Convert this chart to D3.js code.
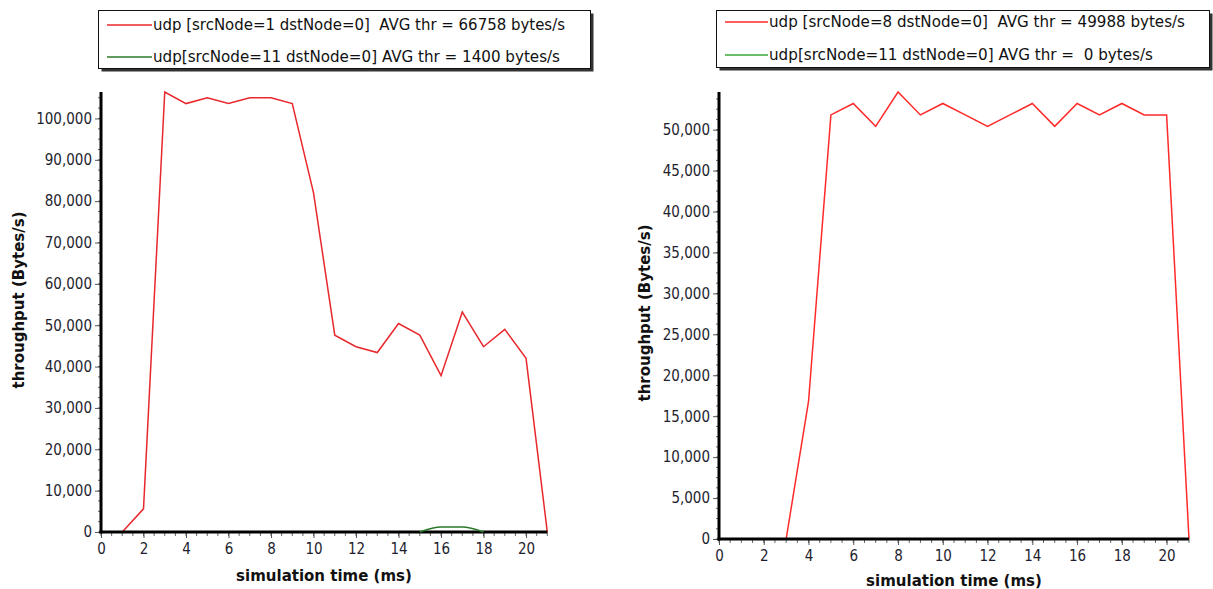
<!DOCTYPE html>
<html>
<head>
<meta charset="utf-8">
<script src="https://cdn.jsdelivr.net/npm/d3@7"></script>
<style>
  html, body { margin: 0; padding: 0; background: #fff; }
  svg { display: block; }
  text { font-family: "DejaVu Sans Condensed", "DejaVu Sans", sans-serif; white-space: pre; }
</style>
</head>
<body>
<svg id="chart" width="1213" height="589"></svg>
<script>
// ---------- data ----------
const timeSteps = [0,1,2,3,4,5,6,7,8,9,10,11,12,13,14,15,16,17,18,19,20,21];

// left chart
const leftRed   = [0,0,5600,106400,103600,105000,103600,105000,105000,103600,82000,47600,44800,43400,50400,47600,37800,53200,44800,49000,42000,0];
const leftGreenTime = [15,16,17,18];
const leftGreen = [0,1200,1200,0];
const leftLegend = [
  "udp [srcNode=1 dstNode=0]  AVG thr = 66758 bytes/s",
  "udp[srcNode=11 dstNode=0] AVG thr = 1400 bytes/s"
];
const leftYTicks = [0,10000,20000,30000,40000,50000,60000,70000,80000,90000,100000];

// right chart
const rightRed   = [0,0,0,0,16800,51800,53200,50400,54600,51800,53200,51800,50400,51800,53200,50400,53200,51800,53200,51800,51800,0];
const rightGreen = [0,0,0,0,0,0,0,0,0,0,0,0,0,0,0,0,0,0,0,0,0,0];
const rightLegend = [
  "udp [srcNode=8 dstNode=0]  AVG thr = 49988 bytes/s",
  "udp[srcNode=11 dstNode=0] AVG thr =  0 bytes/s"
];
const rightYTicks = [0,5000,10000,15000,20000,25000,30000,35000,40000,45000,50000];

const xTicks = [0,2,4,6,8,10,12,14,16,18,20];
const xTitle = "simulation time (ms)";
const yTitle = "throughput (Bytes/s)";

// ---------- drawing ----------
const svg = d3.select("#chart");
const fmt = d3.format(",");

function drawChart(cfg) {
  const g = svg.append("g");
  const x = d3.scaleLinear().domain([0, 21]).range([cfg.x0, cfg.x1]);
  const y = d3.scaleLinear().domain([0, cfg.ymax]).range([cfg.y0, cfg.y1]);

  // minor ticks y
  const yMinor = d3.range(0, cfg.ymax + 1, cfg.yMinorStep);
  g.append("g").selectAll("line").data(yMinor).join("line")
    .attr("x1", cfg.x0 - 3).attr("x2", cfg.x0 + 1)
    .attr("y1", d => y(d)).attr("y2", d => y(d))
    .attr("stroke", "#666").attr("stroke-width", 1);
  // minor ticks x
  const xMinor = d3.range(0, 21.01, 0.5);
  g.append("g").selectAll("line").data(xMinor).join("line")
    .attr("x1", d => x(d)).attr("x2", d => x(d))
    .attr("y1", cfg.y0).attr("y2", cfg.y0 + 4)
    .attr("stroke", "#666").attr("stroke-width", 1);

  // y axis
  const yAxis = d3.axisLeft(y).tickValues(cfg.yTicks).tickFormat(fmt).tickSize(6).tickPadding(3);
  const ya = g.append("g").attr("transform", `translate(${cfg.x0},0)`).call(yAxis);
  ya.select(".domain").remove();
  ya.selectAll(".tick line").attr("stroke", "#555").attr("stroke-width", 1);
  ya.selectAll(".tick text").attr("font-size", 15).attr("fill", "#1e1e2e")
    .style("font-family", '"DejaVu Sans Condensed", "DejaVu Sans", sans-serif');

  // x axis
  const xAxis = d3.axisBottom(x).tickValues(xTicks).tickSize(6).tickPadding(5);
  const xa = g.append("g").attr("transform", `translate(0,${cfg.y0})`).call(xAxis);
  xa.select(".domain").remove();
  xa.selectAll(".tick line").attr("stroke", "#555").attr("stroke-width", 1);
  xa.selectAll(".tick text").attr("font-size", 15).attr("fill", "#1e1e2e")
    .style("font-family", '"DejaVu Sans Condensed", "DejaVu Sans", sans-serif');

  // data lines
  const line = d3.line().x(d => x(d[0])).y(d => y(d[1]));
  const gLine = d3.line().x(d => x(d[0])).y(d => y(d[1])).curve(d3.curveMonotoneX);
  const drawGreen = () => g.append("path")
    .datum(cfg.greenTime.map((t, i) => [t, cfg.green[i]]))
    .attr("fill", "none").attr("stroke", cfg.greenColor).attr("stroke-width", 1.5)
    .attr("d", gLine);

  if (!cfg.greenOnTop) drawGreen();

  g.append("path")
    .datum(cfg.redTime.map((t, i) => [t, cfg.red[i]]))
    .attr("fill", "none").attr("stroke", cfg.redColor).attr("stroke-width", 1.5)
    .attr("d", line);

  // axis lines (thick)
  g.append("line").attr("x1", cfg.x0).attr("x2", cfg.x0)
    .attr("y1", cfg.y1).attr("y2", cfg.y0 + 1.5)
    .attr("stroke", "#000").attr("stroke-width", 3);
  g.append("line").attr("x1", cfg.x0 - 1.5).attr("x2", x(21))
    .attr("y1", cfg.y0).attr("y2", cfg.y0)
    .attr("stroke", "#000").attr("stroke-width", 3);

  if (cfg.greenOnTop) drawGreen();

  // axis titles
  g.append("text")
    .attr("transform", `translate(${cfg.yTitleX},${cfg.yTitleY}) rotate(-90)`)
    .attr("text-anchor", "middle").attr("font-size", 15).attr("font-weight", "bold")
    .attr("fill", "#111")
    .style("font-family", '"DejaVu Sans", sans-serif')
    .text(yTitle);
  g.append("text")
    .attr("x", cfg.xTitleX).attr("y", cfg.xTitleY)
    .attr("text-anchor", "middle").attr("font-size", 15).attr("font-weight", "bold")
    .attr("fill", "#111")
    .style("font-family", '"DejaVu Sans", sans-serif')
    .text(xTitle);

  // legend
  const L = cfg.legend;
  g.append("rect").attr("x", L.x + 3).attr("y", L.y + 3).attr("width", L.w).attr("height", L.h)
    .attr("fill", "#333");
  g.append("rect").attr("x", L.x).attr("y", L.y).attr("width", L.w).attr("height", L.h)
    .attr("fill", "#fff").attr("stroke", "#111").attr("stroke-width", 1);
  const items = [
    { label: cfg.legendText[0], color: cfg.redColor, cy: L.row1 },
    { label: cfg.legendText[1], color: cfg.greenColor, cy: L.row2 }
  ];
  items.forEach((it, i) => {
    g.append("line").attr("x1", L.lx0).attr("x2", L.lx1)
      .attr("y1", it.cy).attr("y2", it.cy)
      .attr("stroke", it.color).attr("stroke-width", 1.3);
    g.append("text").attr("x", L.lx1 + 1).attr("y", it.cy + 5)
      .attr("font-size", 15).attr("fill", "#111")
      .attr("xml:space", "preserve")
      .attr("textLength", L.tw[i]).attr("lengthAdjust", "spacingAndGlyphs")
      .text(it.label);
  });
}

drawChart({
  x0: 101, x1: 547.3, y0: 532, y1: 92, ymax: 106400,
  yTicks: leftYTicks, yMinorStep: 2500,
  redTime: timeSteps, red: leftRed, redColor: "#e8282c",
  greenTime: leftGreenTime, green: leftGreen, greenColor: "#2a7a2a", greenOnTop: true,
  yTitleX: 24, yTitleY: 300, xTitleX: 324, xTitleY: 581,
  legendText: leftLegend,
  legend: { x: 98.5, y: 10.5, w: 492, h: 58, row1: 25, row2: 57, lx0: 107, lx1: 152, tw: [412, 407] }
});

drawChart({
  x0: 719, x1: 1189, y0: 539, y1: 92, ymax: 54600,
  yTicks: rightYTicks, yMinorStep: 1250,
  redTime: timeSteps, red: rightRed, redColor: "#ff2a2a",
  greenTime: timeSteps, green: rightGreen, greenColor: "#3aa63a", greenOnTop: false,
  yTitleX: 650, yTitleY: 313, xTitleX: 954, xTitleY: 586,
  legendText: rightLegend,
  legend: { x: 716.5, y: 10.5, w: 493, h: 57, row1: 22, row2: 55, lx0: 725, lx1: 768, tw: [416, 384] }
});
</script>
</body>
</html>
